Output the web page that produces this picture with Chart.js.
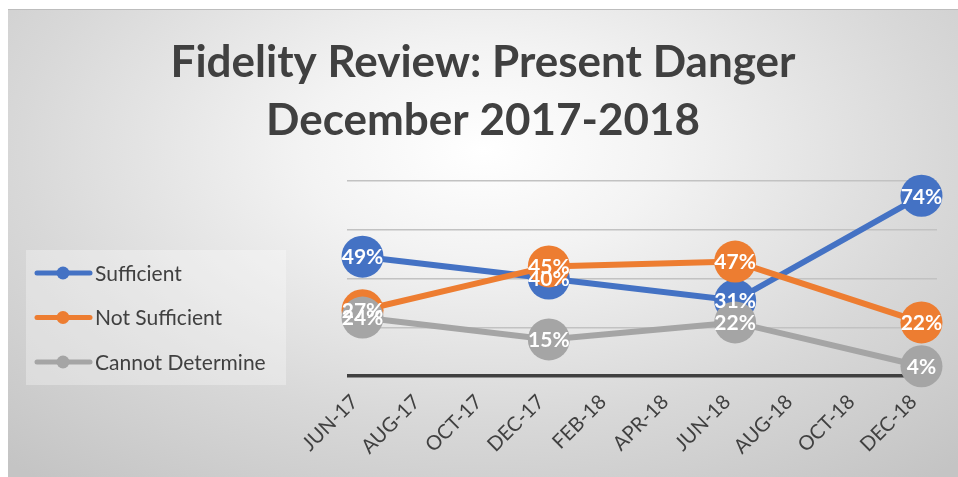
<!DOCTYPE html>
<html>
<head>
<meta charset="utf-8">
<script src="https://cdn.jsdelivr.net/npm/chart.js@4.4.1/dist/chart.umd.min.js"></script>
<style>
  html, body { margin: 0; padding: 0; background: #fff; }
  #wrap {
    position: absolute; left: 8px; top: 9px; width: 950px; height: 468px;
    border-top: 1px solid #bdbdbd;
    box-sizing: border-box;
    background: radial-gradient(ellipse 75% 90% at 50% 30%, #ffffff 0%, #f3f3f3 25%, #d8d8d8 65%, #c4c4c4 100%);
  }
  canvas { position: absolute; left: 0; top: 0; }
</style>
</head>
<body>
<div id="wrap"><canvas id="mycanvas" width="950" height="468"></canvas></div>
<script>
// monthly slots on the axis, labels every other month
var months = ['JUN-17','JUL-17','AUG-17','SEP-17','OCT-17','NOV-17','DEC-17','JAN-18','FEB-18','MAR-18',
              'APR-18','MAY-18','JUN-18','JUL-18','AUG-18','SEP-18','OCT-18','NOV-18','DEC-18'];
var tickLabels = ['JUN-17','AUG-17','OCT-17','DEC-17','FEB-18','APR-18','JUN-18','AUG-18','OCT-18','DEC-18'];

// review dates and percentages
var reviews = ['JUN-17','DEC-17','JUN-18','DEC-18'];
var sufficient = [49, 40, 31, 74];
var notSufficient = [27, 45, 47, 22];
var cannotDetermine = [24, 15, 22, 4];

var seriesNames = ['Sufficient','Not Sufficient','Cannot Determine'];
var seriesColors = ['#4472C4','#ED7D31','#A5A5A5'];

function points(vals){
  var out = [];
  for (var i in reviews) out.push({x: reviews[i], y: vals[i]});
  return out;
}

function makeSet(i, vals){
  return {
    label: seriesNames[i],
    data: points(vals),
    borderColor: seriesColors[i],
    backgroundColor: seriesColors[i],
    borderWidth: 6,
    pointRadius: 21,
    pointHoverRadius: 21,
    pointBorderWidth: 0,
    pointBackgroundColor: seriesColors[i],
    clip: false,
    order: 3 - i
  };
}

var FONT = 'Lato, "Open Sans", sans-serif';
var TEXT = '#404040';

// white value labels centred on each marker
var valueLabels = {
  id: 'valueLabels',
  afterDatasetsDraw: function(chart){
    var ctx = chart.ctx;
    ctx.save();
    ctx.font = 'bold 21px ' + FONT;
    ctx.fillStyle = '#fff';
    ctx.textAlign = 'center';
    ctx.textBaseline = 'middle';
    chart.data.datasets.forEach(function(ds, di){
      var meta = chart.getDatasetMeta(di);
      meta.data.forEach(function(el, j){
        ctx.fillText(ds.data[j].y + '%', el.x, el.y + 1);
      });
    });
    ctx.restore();
  }
};

// legend box on the left with line + dot samples
var sideLegend = {
  id: 'sideLegend',
  afterDraw: function(chart){
    var ctx = chart.ctx;
    ctx.save();
    ctx.fillStyle = 'rgba(255,255,255,0.3)';
    ctx.fillRect(18, 240, 260, 135);
    ctx.font = '21px ' + FONT;
    ctx.textBaseline = 'middle';
    chart.data.datasets.forEach(function(ds, i){
      var y = 263 + i * 44.5;
      ctx.strokeStyle = ds.borderColor;
      ctx.lineWidth = 5;
      ctx.lineCap = 'round';
      ctx.beginPath();
      ctx.moveTo(29, y);
      ctx.lineTo(82, y);
      ctx.stroke();
      ctx.fillStyle = ds.borderColor;
      ctx.beginPath();
      ctx.arc(55, y, 6.5, 0, Math.PI * 2);
      ctx.fill();
      ctx.fillStyle = TEXT;
      ctx.fillText(ds.label, 87, y + 1);
    });
    ctx.restore();
  }
};

var ctx = document.getElementById('mycanvas');
var lineGraph = new Chart(ctx, {
  type: 'line',
  data: {
    labels: months,
    datasets: [makeSet(0, sufficient), makeSet(1, notSufficient), makeSet(2, cannotDetermine)]
  },
  options: {
    responsive: false,
    animation: false,
    events: [],
    layout: { padding: 0 },
    plugins: {
      legend: { display: false },
      tooltip: { enabled: false },
      title: {
        display: true,
        text: ['Fidelity Review: Present Danger', 'December 2017-2018'],
        color: TEXT,
        font: { family: FONT, size: 44, weight: 'bold', lineHeight: 1.32 },
        padding: { top: 24, bottom: 31 }
      }
    },
    scales: {
      x: {
        offset: true,
        grid: { display: false },
        border: { display: false },
        ticks: {
          autoSkip: false,
          maxRotation: 45,
          minRotation: 45,
          labelOffset: -8,
          padding: 6,
          color: TEXT,
          font: { family: FONT, size: 20 },
          callback: function(v, i){ return i % 2 === 0 ? tickLabels[i / 2] : ''; }
        },
        afterFit: function(s){ s.height = 102; }
      },
      y: {
        min: 0,
        max: 80,
        border: { display: false },
        grid: {
          drawTicks: false,
          color: function(c){ return c.tick.value === 0 ? '#404040' : '#c2c2c2'; },
          lineWidth: function(c){ return c.tick.value === 0 ? 3.5 : 1.5; }
        },
        ticks: { display: false, stepSize: 20 },
        afterFit: function(s){ s.width = 339; }
      },
      yRight: {
        position: 'right',
        grid: { display: false },
        border: { display: false },
        ticks: { display: false },
        afterFit: function(s){ s.width = 21; }
      }
    }
  },
  plugins: [valueLabels, sideLegend]
});
</script>
</body>
</html>
